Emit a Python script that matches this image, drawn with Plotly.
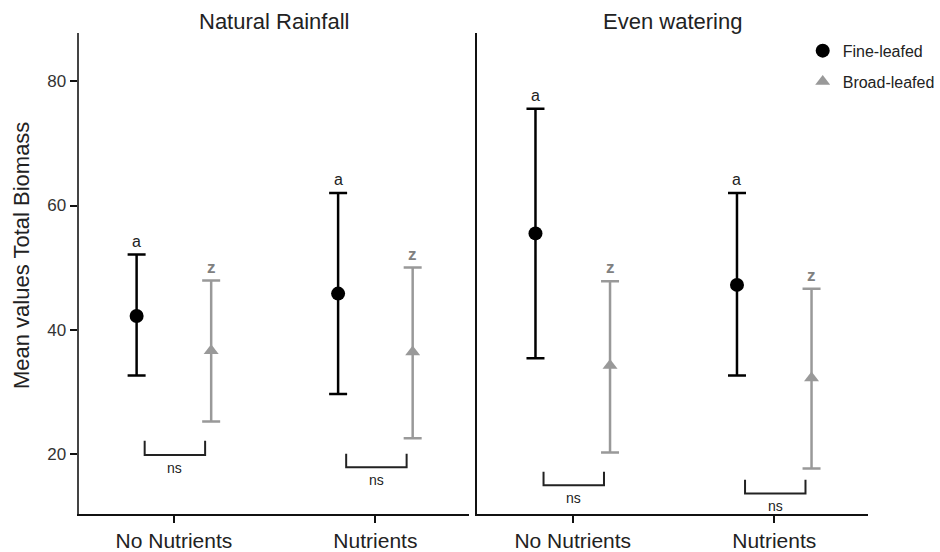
import plotly.graph_objects as go

# ---------------- data ----------------
panels = ["Natural Rainfall", "Even watering"]
categories = ["No Nutrients", "Nutrients"]
cat_pos = [1, 2]

fine_mean = [[42.2, 45.8], [55.5, 47.2]]
fine_lo = [[32.6, 29.6], [35.4, 32.6]]
fine_hi = [[52.1, 62.0], [75.6, 62.0]]

broad_mean = [[36.6, 36.4], [34.2, 32.2]]
broad_lo = [[25.2, 22.5], [20.2, 17.6]]
broad_hi = [[47.9, 50.0], [47.8, 46.6]]

fine_letters = [["a", "a"], ["a", "a"]]
broad_letters = [["z", "z"], ["z", "z"]]

bracket_label = [["ns", "ns"], ["ns", "ns"]]
bracket_top = [[22.1, 20.0], [17.1, 15.8]]
bracket_bottom = [[19.8, 17.8], [14.9, 13.6]]

y_ticks = [20, 40, 60, 80]
y_range = [10.24, 87.84]
x_range = [0.527, 2.467]

# ---------------- style ----------------
FONT = "Liberation Sans, Arial, sans-serif"
W, H = 940, 552
dodge = 0.185
fine_color = "#000000"
broad_color = "#999999"

fig = go.Figure()

for p in range(2):
    xa = "x" if p == 0 else "x2"
    ya = "y" if p == 0 else "y2"
    xf = [c - dodge for c in cat_pos]
    xb = [c + dodge for c in cat_pos]
    fig.add_trace(go.Scatter(
        x=xf, y=fine_mean[p], mode="markers", xaxis=xa, yaxis=ya,
        name="Fine-leafed", legendgroup="fine", showlegend=(p == 1),
        marker=dict(symbol="circle", size=14, color=fine_color),
        error_y=dict(type="data", symmetric=False,
                     array=[h - m for h, m in zip(fine_hi[p], fine_mean[p])],
                     arrayminus=[m - l for l, m in zip(fine_lo[p], fine_mean[p])],
                     color=fine_color, thickness=2.5, width=9),
    ))
    fig.add_trace(go.Scatter(
        x=xb, y=broad_mean[p], mode="markers", xaxis=xa, yaxis=ya,
        name="Broad-leafed", legendgroup="broad", showlegend=(p == 1),
        marker=dict(symbol="triangle-up", size=13, color=broad_color),
        error_y=dict(type="data", symmetric=False,
                     array=[h - m for h, m in zip(broad_hi[p], broad_mean[p])],
                     arrayminus=[m - l for l, m in zip(broad_lo[p], broad_mean[p])],
                     color=broad_color, thickness=2.5, width=9),
    ))
    for i, c in enumerate(cat_pos):
        # letters
        fig.add_annotation(x=c - dodge, y=fine_hi[p][i], xref=xa, yref=ya,
                           text=fine_letters[p][i], showarrow=False,
                           yanchor="bottom", yshift=3,
                           font=dict(family=FONT, size=16, color="#222222"))
        fig.add_annotation(x=c + dodge, y=broad_hi[p][i], xref=xa, yref=ya,
                           text="<b>" + broad_letters[p][i] + "</b>", showarrow=False,
                           yanchor="bottom", yshift=2,
                           font=dict(family=FONT, size=17, color="#808080"))
        # bracket
        x0 = c - 0.145
        x1 = c + 0.155
        yt = bracket_top[p][i]
        yb = bracket_bottom[p][i]
        fig.add_shape(type="path", xref=xa, yref=ya,
                      path=f"M {x0},{yt} L {x0},{yb} L {x1},{yb} L {x1},{yt}",
                      line=dict(color="#222222", width=2))
        fig.add_annotation(x=(x0 + x1) / 2, y=yb, xref=xa, yref=ya,
                           text=bracket_label[p][i], showarrow=False,
                           yanchor="top", yshift=-3,
                           font=dict(family=FONT, size=14, color="#222222"))

ydom = [1 - 518 / H, 1 - 33 / H]
xaxis_common = dict(range=x_range, tickvals=cat_pos, ticktext=categories,
                    showline=True, linecolor="#111111", linewidth=2,
                    ticks="outside", ticklen=7, tickwidth=2, tickcolor="#111111",
                    showgrid=False, zeroline=False,
                    tickfont=dict(family=FONT, size=21, color="#222222"))

fig.update_layout(
    width=W, height=H,
    margin=dict(l=0, r=0, t=0, b=0),
    paper_bgcolor="white", plot_bgcolor="white",
    xaxis=dict(domain=[79 / W, 472 / W], anchor="y", **xaxis_common),
    xaxis2=dict(domain=[480 / W, 873 / W], anchor="y2", **xaxis_common),
    yaxis=dict(domain=ydom, range=y_range, anchor="x", tickvals=y_ticks,
               showline=True, linecolor="#444444", linewidth=2,
               ticks="outside", ticklen=7, tickwidth=2, tickcolor="#111111",
               showgrid=False, zeroline=False,
               tickfont=dict(family=FONT, size=17, color="#333333")),
    yaxis2=dict(domain=ydom, range=y_range, anchor="x2", matches="y",
                showline=True, linecolor="#111111", linewidth=2,
                ticks="", showticklabels=False, showgrid=False, zeroline=False),
    showlegend=True,
    legend=dict(x=807 / W, y=1 - 34 / H, xanchor="left", yanchor="top",
                bgcolor="rgba(0,0,0,0)", tracegroupgap=7,
                font=dict(family=FONT, size=16, color="#222222")),
)

# panel titles
for p, name in enumerate(panels):
    xc = (79 + 472) / 2 if p == 0 else (480 + 873) / 2
    fig.add_annotation(x=xc / W, y=1 - 22 / H, xref="paper", yref="paper",
                       text=name, showarrow=False, xanchor="center", yanchor="middle",
                       font=dict(family=FONT, size=22, color="#222222"))

# y-axis title
fig.add_annotation(x=21 / W, y=1 - 257 / H, xref="paper", yref="paper",
                   text="Mean values Total Biomass", textangle=-90, showarrow=False,
                   xanchor="center", yanchor="middle",
                   font=dict(family=FONT, size=22, color="#222222"))

fig.write_html("out.html")
